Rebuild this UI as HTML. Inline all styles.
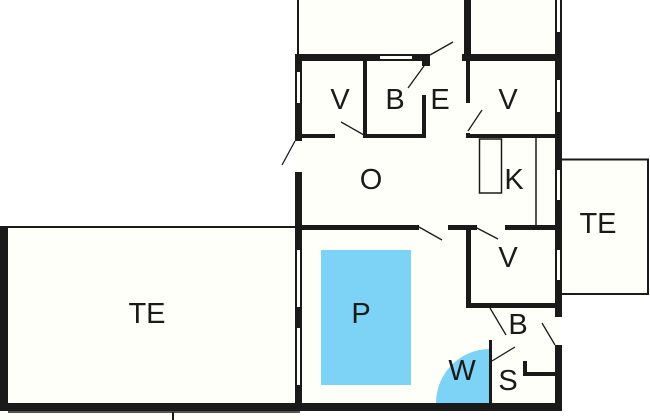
<!DOCTYPE html>
<html><head><style>
html,body{margin:0;padding:0;background:#fff;}
svg{display:block;}
text{font-family:"Liberation Sans",sans-serif;font-size:29px;fill:#1a1a1a;text-anchor:middle;}
</style></head><body>
<svg width="650" height="420" viewBox="0 0 650 420" xmlns="http://www.w3.org/2000/svg">
<rect width="650" height="420" fill="#fff"/>
<rect x="298" y="0" width="169" height="60" fill="#fffffa"/>
<rect x="467" y="0" width="90" height="60" fill="#fffffa"/>
<rect x="295" y="54" width="265" height="356" fill="#fffffa"/>
<rect x="0" y="227" width="297" height="180" fill="#fffffa"/>
<rect x="561" y="159" width="88" height="135" fill="#fffffa"/>
<rect x="0" y="411" width="300" height="9" fill="#fffffa"/>
<g fill="none" stroke="#1a1a1a">
<line x1="298" y1="0" x2="298" y2="55" stroke-width="2"/>
<rect x="561" y="159.5" width="87" height="134.5" stroke-width="2"/>
<line x1="0" y1="227" x2="297" y2="227" stroke-width="2"/>
<line x1="8" y1="412" x2="300" y2="412" stroke-width="1.5"/>
<line x1="173" y1="412" x2="173" y2="420" stroke-width="2"/>
<rect x="479.5" y="139" width="22" height="54" stroke-width="1.5"/>
<line x1="536" y1="138" x2="536" y2="225" stroke-width="1.5"/>
<g stroke-width="1.3">
<line x1="430" y1="55" x2="453" y2="42"/>
<line x1="408" y1="88" x2="424" y2="66"/>
<line x1="341" y1="122" x2="364" y2="135"/>
<line x1="295" y1="141" x2="282" y2="165"/>
<line x1="468" y1="131" x2="482" y2="110"/>
<line x1="419" y1="227" x2="442" y2="240"/>
<line x1="475" y1="227" x2="498" y2="239"/>
<line x1="490" y1="308" x2="506" y2="335"/>
<line x1="542" y1="323" x2="555" y2="345"/>
<line x1="492" y1="361" x2="515" y2="347"/>
</g>
</g>
<rect x="321" y="250" width="90" height="135" fill="#7dd3f5"/>
<path d="M490,403 L436,403 A54,54 0 0 1 490,349 Z" fill="#7dd3f5"/>
<g fill="#1a1a1a">
<rect x="464" y="0" width="7" height="60"/>
<rect x="295" y="54" width="85" height="7"/>
<rect x="380" y="54" width="32" height="2"/>
<rect x="380" y="59" width="32" height="2"/>
<rect x="412" y="54" width="18" height="7"/>
<rect x="462" y="54" width="98" height="7"/>
<rect x="295" y="54" width="7" height="18"/>
<rect x="295" y="72" width="2" height="31"/>
<rect x="300" y="72" width="2" height="31"/>
<rect x="295" y="103" width="7" height="38"/>
<rect x="295" y="172" width="7" height="78"/>
<rect x="295" y="250" width="2" height="57"/>
<rect x="300" y="250" width="2" height="57"/>
<rect x="295" y="307" width="7" height="21"/>
<rect x="295" y="328" width="2" height="57"/>
<rect x="300" y="328" width="2" height="57"/>
<rect x="295" y="385" width="7" height="25"/>
<rect x="555" y="0" width="2" height="32"/>
<rect x="560" y="0" width="2" height="32"/>
<rect x="555" y="32" width="7" height="48"/>
<rect x="555" y="80" width="2" height="32"/>
<rect x="560" y="80" width="2" height="32"/>
<rect x="555" y="112" width="7" height="58"/>
<rect x="555" y="170" width="2" height="30"/>
<rect x="560" y="170" width="2" height="30"/>
<rect x="555" y="200" width="7" height="50"/>
<rect x="555" y="250" width="2" height="30"/>
<rect x="560" y="250" width="2" height="30"/>
<rect x="555" y="280" width="7" height="37"/>
<rect x="555" y="345" width="7" height="65"/>
<rect x="363" y="61" width="4" height="77"/>
<rect x="302" y="134" width="33" height="4"/>
<rect x="363" y="134" width="63" height="4"/>
<rect x="422" y="95" width="4" height="43"/>
<rect x="422" y="61" width="8" height="5"/>
<rect x="466" y="61" width="4" height="42"/>
<rect x="466" y="133" width="4" height="5"/>
<rect x="466" y="134" width="91" height="4"/>
<rect x="295" y="225" width="124" height="5"/>
<rect x="448" y="225" width="29" height="5"/>
<rect x="505" y="225" width="52" height="5"/>
<rect x="466" y="227" width="5" height="81"/>
<rect x="466" y="303" width="91" height="5"/>
<rect x="489" y="340" width="3" height="68"/>
<rect x="523" y="361" width="4" height="15"/>
<rect x="523" y="372" width="34" height="4"/>
<rect x="0" y="403" width="562" height="8"/>
<rect x="0" y="227" width="8" height="184"/>
</g>
<text x="340" y="109">V</text>
<text x="395" y="109">B</text>
<text x="440" y="109">E</text>
<text x="508" y="109">V</text>
<text x="371" y="189">O</text>
<text x="514" y="189">K</text>
<text x="598" y="233">TE</text>
<text x="508" y="267">V</text>
<text x="361" y="323">P</text>
<text x="147" y="323">TE</text>
<text x="518" y="334">B</text>
<text x="462" y="380">W</text>
<text x="508" y="390">S</text>
</svg>
</body></html>
